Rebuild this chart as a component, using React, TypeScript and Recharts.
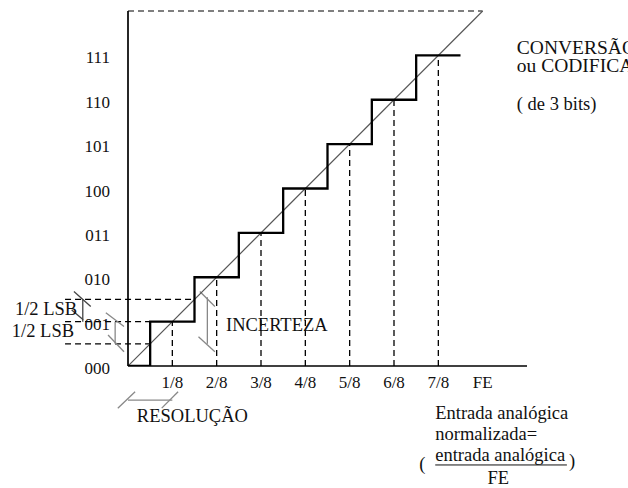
import React from 'react';
import { ComposedChart, Line, XAxis, YAxis, ReferenceLine, ReferenceDot } from 'recharts';

// Tick values and labels
const xTickValues = [1, 2, 3, 4, 5, 6, 7, 8];
const xTickLabels = ['1/8', '2/8', '3/8', '4/8', '5/8', '6/8', '7/8', 'FE'];
const yTickValues = [0, 1, 2, 3, 4, 5, 6, 7];
const yTickLabels = ['000', '001', '010', '011', '100', '101', '110', '111'];

// Quantizer staircase (3-bit): transition edges (in LSB of input) and output codes
const stepEdges = [0, 0.5, 1.5, 2.5, 3.5, 4.5, 5.5, 6.5, 7.5];
const stepCodes = [0, 1, 2, 3, 4, 5, 6, 7, 7];

// Ideal (continuous) transfer line
const idealX = [0, 8];
const idealY = [0, 8];

// Sample points k/8 with their code (dashed verticals)
const sampleX = [1, 2, 3, 4, 5, 6, 7];
const sampleCode = [1, 2, 3, 4, 5, 6, 7];

// Left dashed guides: level and where they end (riser)
const guideLevels = [0.5, 1, 1.5];
const guideEnds = [0.5, 0.5, 1.5];
const guideStart = -1.42;

// Bracket annotations: [x1, y1, x2, y2]
const bracketSegments: number[][] = [
  // upper 1/2 LSB (dark)
  [-1.02, 1.5, -1.02, 1.0],
  [-1.22, 1.68, -0.84, 1.34],
  [-1.27, 1.26, -1.01, 1.04],
  // lower 1/2 LSB
  [-0.29, 1.0, -0.29, 0.5],
  [-0.5, 1.2, -0.09, 0.89],
  [-0.45, 0.7, -0.09, 0.32],
  // incerteza
  [1.79, 1.55, 1.79, 0.5],
  [1.62, 1.68, 1.96, 1.34],
  [1.59, 0.66, 1.96, 0.32],
  // resolução
  [0, -0.767, 1.0, -0.767],
  [-0.23, -0.95, 0.16, -0.58],
  [0.76, -0.95, 1.13, -0.58],
];
const bracketColors = ['#444', '#444', '#444', '#888', '#888', '#888', '#888', '#888', '#888', '#888', '#888', '#888'];

// Text annotations (data coordinates: left/center x, baseline y)
const noteTexts = [
  'CONVERSÃO', 'ou CODIFICAÇÃO', '( de 3 bits)', 'INCERTEZA', 'RESOLUÇÃO',
  '1/2 LSB', '1/2 LSB', 'Entrada analógica', 'normalizada=', '(', 'entrada analógica', ')', 'FE',
];
const noteX = [8.77, 8.77, 8.77, 2.21, 0.2, -2.55, -2.62, 6.93, 6.93, 6.57, 6.93, 9.95, 8.35];
const noteY = [7.03, 6.63, 5.77, 0.79, -1.26, 1.15, 0.65, -1.19, -1.67, -2.35, -2.15, -2.27, -2.66];
const noteAnchor = ['start', 'start', 'start', 'start', 'start', 'start', 'start', 'start', 'start', 'start', 'start', 'start', 'middle'];
const noteSize = [19.5, 19.5, 18.5, 18.5, 18.5, 18.5, 18.5, 18.5, 18.5, 18.5, 18.5, 18.5, 18.5];

const FONT = "'Liberation Serif', 'Times New Roman', serif";

const stairData = stepEdges.map((x, i) => ({ x, y: stepCodes[i] }));
const idealData = idealX.map((x, i) => ({ x, y: idealY[i] }));

const XTick = (props: any) => {
  const { x, y, payload } = props;
  const i = xTickValues.indexOf(payload.value);
  return (
    <text x={x} y={y + 22} textAnchor="middle" fontSize={17} fontFamily={FONT} fill="#111">
      {xTickLabels[i]}
    </text>
  );
};

const YTick = (props: any) => {
  const { x, y, payload } = props;
  const i = yTickValues.indexOf(payload.value);
  return (
    <text x={x} y={y + 8} textAnchor="end" fontSize={17} fontFamily={FONT} fill="#111">
      {yTickLabels[i]}
    </text>
  );
};

export default function App() {
  return (
    <div style={{ position: 'absolute', left: 0, top: 0, width: 628, height: 488, overflow: 'hidden', background: '#fff' }}>
      <ComposedChart width={628} height={488} margin={{ top: 11, right: 101, bottom: 92, left: 68 }}>
        <XAxis
          dataKey="x"
          type="number"
          domain={[0, 9]}
          ticks={xTickValues}
          tick={<XTick />}
          tickLine={false}
          tickSize={0}
          tickMargin={0}
          height={30}
          axisLine={{ stroke: '#000', strokeWidth: 1.7 }}
          allowDataOverflow
        />
        <YAxis
          type="number"
          domain={[0, 8]}
          ticks={yTickValues}
          tick={<YTick />}
          tickLine={false}
          tickSize={0}
          tickMargin={18}
          width={60}
          axisLine={{ stroke: '#000', strokeWidth: 1.7 }}
          allowDataOverflow
        />
        {/* top dashed full-scale line */}
        <ReferenceLine
          segment={[{ x: 0, y: 8 }, { x: 8, y: 8 }]}
          stroke="#000"
          strokeWidth={1.2}
          strokeDasharray="6 4"
          ifOverflow="visible"
        />
        {/* dashed verticals at k/8 */}
        {sampleX.map((x, i) => (
          <ReferenceLine
            key={'v' + i}
            segment={[{ x, y: 0 }, { x, y: sampleCode[i] }]}
            stroke="#000"
            strokeWidth={1.3}
            strokeDasharray="6 4"
            ifOverflow="visible"
          />
        ))}
        {/* left dashed guides */}
        {guideLevels.map((lv, i) => (
          <ReferenceLine
            key={'g' + i}
            segment={[{ x: guideStart, y: lv }, { x: guideEnds[i], y: lv }]}
            stroke="#000"
            strokeWidth={1.2}
            strokeDasharray="6 4"
            ifOverflow="visible"
          />
        ))}
        {/* bracket annotations */}
        {bracketSegments.map((s, i) => (
          <ReferenceLine
            key={'b' + i}
            segment={[{ x: s[0], y: s[1] }, { x: s[2], y: s[3] }]}
            stroke={bracketColors[i]}
            strokeWidth={1.3}
            ifOverflow="visible"
          />
        ))}
        {/* underline of fraction */}
        <ReferenceLine
          segment={[{ x: 6.93, y: -2.23 }, { x: 9.9, y: -2.23 }]}
          stroke="#111"
          strokeWidth={1}
          ifOverflow="visible"
        />
        <Line
          data={idealData}
          dataKey="y"
          type="linear"
          stroke="#555"
          strokeWidth={1.2}
          dot={false}
          activeDot={false}
          isAnimationActive={false}
        />
        <Line
          data={stairData}
          dataKey="y"
          type="stepAfter"
          stroke="#000"
          strokeWidth={2.3}
          dot={false}
          activeDot={false}
          isAnimationActive={false}
        />
        {noteTexts.map((t, i) => (
          <ReferenceDot
            key={'n' + i}
            x={noteX[i]}
            y={noteY[i]}
            r={0}
            ifOverflow="visible"
            shape={(p: any) => (
              <text
                x={p.cx}
                y={p.cy}
                textAnchor={noteAnchor[i] as any}
                fontSize={noteSize[i]}
                fontFamily={FONT}
                fill="#111"
              >
                {t}
              </text>
            )}
          />
        ))}
      </ComposedChart>
    </div>
  );
}
